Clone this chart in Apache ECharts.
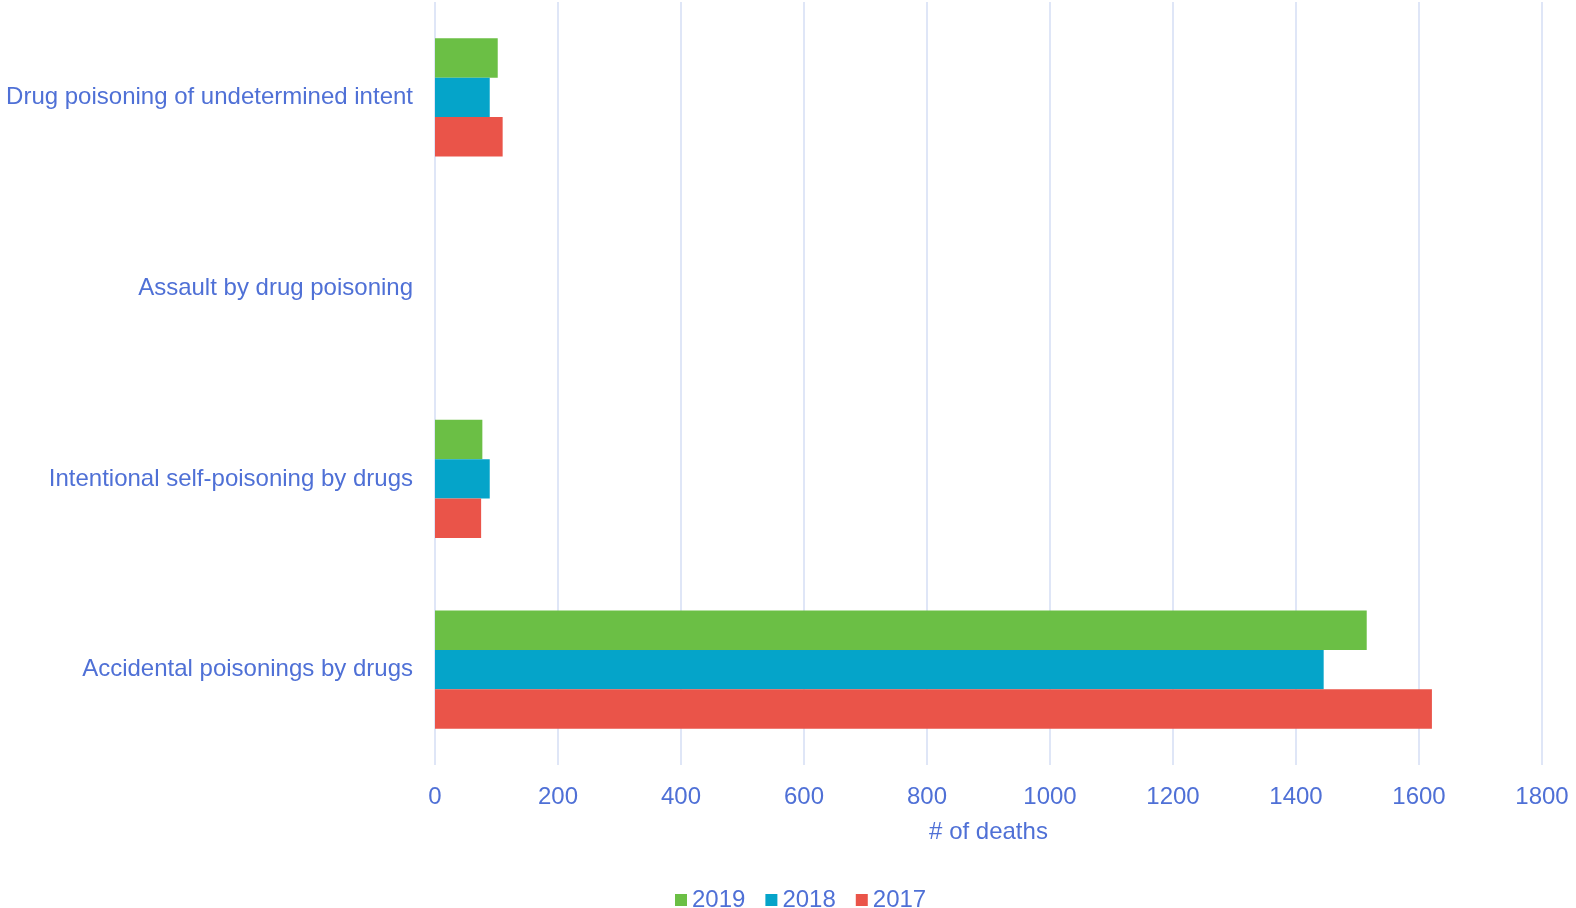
<!DOCTYPE html>
<html><head><meta charset="utf-8">
<script src="https://cdn.jsdelivr.net/npm/echarts@6/dist/echarts.min.js"></script>
<style>html,body{margin:0;padding:0;background:#fff}#c{width:1576px;height:908px}</style>
</head><body><div id="c"></div>
<script>
const categories = ['Accidental poisonings by drugs','Intentional self-poisoning by drugs','Assault by drug poisoning','Drug poisoning of undetermined intent'];
const values2019 = [1515, 77, 0, 102];
const values2018 = [1445, 89, 0, 89];
const values2017 = [1621, 75, 0, 110];
const xTicks = [0,200,400,600,800,1000,1200,1400,1600,1800];

const textColor = '#4f70d6';
const font = "'Liberation Sans', Arial, sans-serif";
const chart = echarts.init(document.getElementById('c'));
chart.setOption({
  animation:false,
  grid:{left:435,right:34,top:2,bottom:143,containLabel:false},
  legend:{data:['2019','2018','2017'],bottom:-9,left:670,itemWidth:12,itemHeight:12,itemGap:20,icon:'rect',
    textStyle:{color:textColor,fontSize:24,fontFamily:font,padding:[0,0,0,0]}},
  xAxis:{type:'value',min:0,max:1800,interval:200,name:'# of deaths',nameLocation:'middle',nameGap:55,
    nameTextStyle:{color:textColor,fontSize:24,fontFamily:font},
    axisLine:{show:false},axisTick:{show:false},
    axisLabel:{color:textColor,fontSize:24,fontFamily:font,margin:20,formatter:v=>xTicks.includes(v)?String(v):''},
    splitLine:{lineStyle:{color:'#d5def5',width:1.5}}},
  yAxis:{type:'category',data:categories,axisLine:{show:false},axisTick:{show:false},
    axisLabel:{color:textColor,fontSize:24,fontFamily:font,margin:22}},
  series:[
    {name:'2019',type:'bar',data:values2019,itemStyle:{color:'#6bbf45'},barGap:'0%',barCategoryGap:'38%'},
    {name:'2018',type:'bar',data:values2018,itemStyle:{color:'#05a4c9'},barGap:'0%',barCategoryGap:'38%'},
    {name:'2017',type:'bar',data:values2017,itemStyle:{color:'#ea5449'},barGap:'0%',barCategoryGap:'38%'}
  ]
});
</script></body></html>
